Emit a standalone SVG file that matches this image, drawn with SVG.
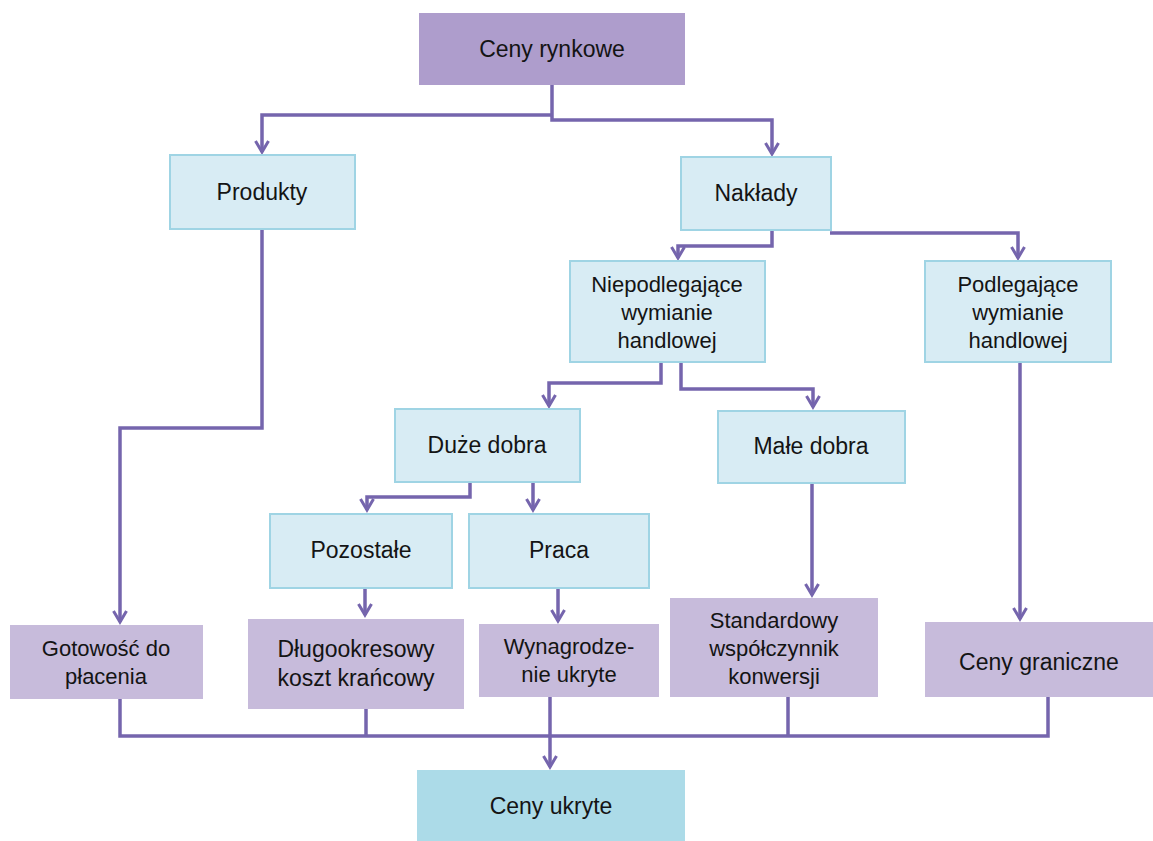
<svg xmlns="http://www.w3.org/2000/svg" width="1153" height="841" viewBox="0 0 1153 841">
<style>
.bg{fill:#ffffff}
.top{fill:#ae9dcc}
.pur{fill:#c7bbdb}
.blu{fill:#d8ecf4;stroke:#9fd4e4;stroke-width:2}
.out{fill:#acdbe8}
.t{font-family:"Liberation Sans",Arial,sans-serif;font-size:23px;fill:#141414;text-anchor:middle}
.m{font-size:22px}
.c{fill:none;stroke:#7565ad;stroke-width:3.5}
</style>
<defs>
<marker id="ah" markerUnits="userSpaceOnUse" viewBox="0 0 16 16" markerWidth="16" markerHeight="16" refX="13" refY="8" orient="auto">
<path d="M2,1.5 L13,8 L2,14.5" fill="none" stroke="#7565ad" stroke-width="3"/>
</marker>
</defs>
<rect class="bg" x="0" y="0" width="1153" height="841"/>
<g id="connectors">
<path class="c" d="M552,85 V120 H772 V154" marker-end="url(#ah)"/>
<path class="c" d="M552,115 H262 V152" marker-end="url(#ah)"/>
<path class="c" d="M262,229 V428 H120 V622" marker-end="url(#ah)"/>
<path class="c" d="M772,230 V246 H678 V258" marker-end="url(#ah)"/>
<path class="c" d="M830,233 H1018 V258" marker-end="url(#ah)"/>
<path class="c" d="M661,362 V383 H549 V406" marker-end="url(#ah)"/>
<path class="c" d="M681,362 V389 H813 V407" marker-end="url(#ah)"/>
<path class="c" d="M1020,362 V619" marker-end="url(#ah)"/>
<path class="c" d="M470,482 V497 H367 V510" marker-end="url(#ah)"/>
<path class="c" d="M533,482 V510" marker-end="url(#ah)"/>
<path class="c" d="M365,588 V615" marker-end="url(#ah)"/>
<path class="c" d="M558,588 V621" marker-end="url(#ah)"/>
<path class="c" d="M812,483 V595" marker-end="url(#ah)"/>
<path class="c" d="M120,699 V736 H1048 V697"/>
<path class="c" d="M366,709 V736"/>
<path class="c" d="M788,697 V736"/>
<path class="c" d="M550,697 V767" marker-end="url(#ah)"/>
</g>
<g id="n-ceny-rynkowe"><rect class="top" x="419" y="13" width="266" height="72"/><text class="t" x="552" y="57">Ceny rynkowe</text></g>
<g id="n-produkty"><rect class="blu" x="170" y="155" width="185" height="74"/><text class="t" x="262" y="200">Produkty</text></g>
<g id="n-naklady"><rect class="blu" x="681" y="157" width="150" height="73"/><text class="t" x="756" y="201">Nakłady</text></g>
<g id="n-niepodlegajace"><rect class="blu" x="570" y="261" width="195" height="101"/><text class="t m" x="667" y="292">Niepodlegające</text><text class="t m" x="667" y="320">wymianie</text><text class="t m" x="667" y="348">handlowej</text></g>
<g id="n-podlegajace"><rect class="blu" x="925" y="261" width="186" height="101"/><text class="t m" x="1018" y="292">Podlegające</text><text class="t m" x="1018" y="320">wymianie</text><text class="t m" x="1018" y="348">handlowej</text></g>
<g id="n-duze"><rect class="blu" x="395" y="409" width="185" height="73"/><text class="t" x="487" y="453">Duże dobra</text></g>
<g id="n-male"><rect class="blu" x="718" y="411" width="187" height="72"/><text class="t" x="811" y="454">Małe dobra</text></g>
<g id="n-pozostale"><rect class="blu" x="270" y="514" width="182" height="74"/><text class="t" x="361" y="558">Pozostałe</text></g>
<g id="n-praca"><rect class="blu" x="469" y="514" width="180" height="74"/><text class="t" x="559" y="558">Praca</text></g>
<g id="n-gotowosc"><rect class="pur" x="10" y="625" width="193" height="74"/><text class="t m" x="106" y="656">Gotowość do</text><text class="t m" x="106" y="684">płacenia</text></g>
<g id="n-dlugookresowy"><rect class="pur" x="248" y="619" width="216" height="90"/><text class="t" x="356" y="657">Długookresowy</text><text class="t" x="356" y="686">koszt krańcowy</text></g>
<g id="n-wynagrodzenie"><rect class="pur" x="479" y="624" width="180" height="73"/><text class="t m" x="569" y="654">Wynagrodze-</text><text class="t m" x="569" y="682">nie ukryte</text></g>
<g id="n-standardowy"><rect class="pur" x="670" y="598" width="208" height="99"/><text class="t m" x="774" y="628">Standardowy</text><text class="t m" x="774" y="656">współczynnik</text><text class="t m" x="774" y="684">konwersji</text></g>
<g id="n-graniczne"><rect class="pur" x="925" y="622" width="228" height="75"/><text class="t" x="1039" y="670">Ceny graniczne</text></g>
<g id="n-ukryte"><rect class="out" x="417" y="770" width="268" height="71"/><text class="t" x="551" y="814">Ceny ukryte</text></g>
</svg>
